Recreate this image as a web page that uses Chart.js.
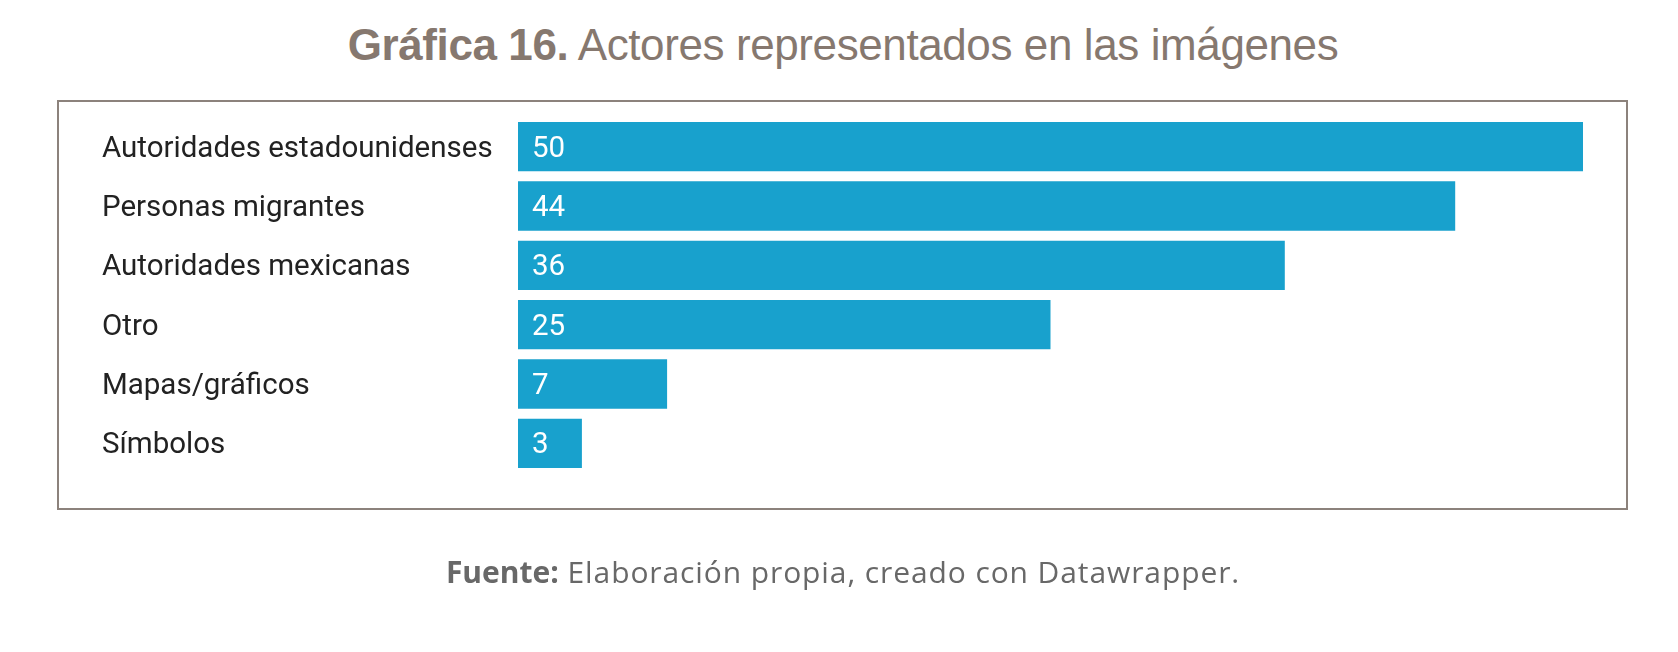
<!DOCTYPE html>
<html>
<head>
<meta charset="utf-8">
<script src="https://cdn.jsdelivr.net/npm/chart.js@4.4.1/dist/chart.umd.min.js"></script>
<style>
  html, body { margin: 0; padding: 0; background: #ffffff; }
  #wrap { position: relative; width: 1678px; height: 652px; overflow: hidden; }
  #title {
    position: absolute; left: 0; top: 23px; width: 1686px; text-align: center;
    font-family: "Liberation Sans", Arial, sans-serif; font-size: 44px; line-height: 44px;
    letter-spacing: -0.4px; color: #86786f; white-space: nowrap;
  }
  #title b { font-weight: 700; }
  #box {
    position: absolute; left: 57px; top: 100px; width: 1567px; height: 406px;
    border: 2px solid #8c827c;
  }
  #footer {
    position: absolute; left: 0; top: 557px; width: 1686px; text-align: center;
    font-family: "Open Sans", "Noto Sans", sans-serif; font-size: 30px; line-height: 30px;
    letter-spacing: 0.9px; color: #686868; white-space: nowrap;
  }
  #footer b { font-weight: 700; letter-spacing: 0; }
  #chart { position: absolute; left: 0; top: 0; }
</style>
</head>
<body>
<div id="wrap">
  <div id="title"><b>Gráfica 16.</b> Actores representados en las imágenes</div>
  <div id="box"></div>
  <canvas id="chart" width="1678" height="652"></canvas>
  <div id="footer"><b>Fuente:</b> Elaboración propia, creado con Datawrapper.</div>
</div>
<script>
const categories = [
  "Autoridades estadounidenses",
  "Personas migrantes",
  "Autoridades mexicanas",
  "Otro",
  "Mapas/gráficos",
  "Símbolos"
];
const values = [50, 44, 36, 25, 7, 3];
const axisMin = 0;
const axisMax = 50;

const valueLabels = {
  id: 'valueLabels',
  afterDatasetsDraw(chart) {
    const ctx = chart.ctx;
    const meta = chart.getDatasetMeta(0);
    ctx.save();
    ctx.font = '29.5px Roboto';
    ctx.fillStyle = '#ffffff';
    ctx.textAlign = 'left';
    ctx.textBaseline = 'middle';
    meta.data.forEach((bar, i) => {
      ctx.fillText(String(values[i]), bar.base + 14, bar.y + 2.5);
    });
    ctx.restore();
  }
};

new Chart(document.getElementById('chart'), {
  type: 'bar',
  data: {
    labels: categories,
    datasets: [{
      data: values,
      backgroundColor: '#18a1cd',
      borderWidth: 0,
      barPercentage: 0.831,
      categoryPercentage: 1.0
    }]
  },
  options: {
    indexAxis: 'y',
    responsive: false,
    animation: false,
    devicePixelRatio: 1,
    layout: { padding: { left: 102, right: 95, top: 117, bottom: 179 } },
    plugins: { legend: { display: false }, tooltip: { enabled: false } },
    scales: {
      x: { display: false, min: axisMin, max: axisMax },
      y: {
        grid: { display: false },
        border: { display: false },
        ticks: {
          crossAlign: 'far',
          font: { family: 'Roboto', size: 29.5 },
          color: '#222222',
          padding: 0,
          labelOffset: 2.5
        },
        afterFit(scale) { scale.width = 416; }
      }
    }
  },
  plugins: [valueLabels]
});
</script>
</body>
</html>
